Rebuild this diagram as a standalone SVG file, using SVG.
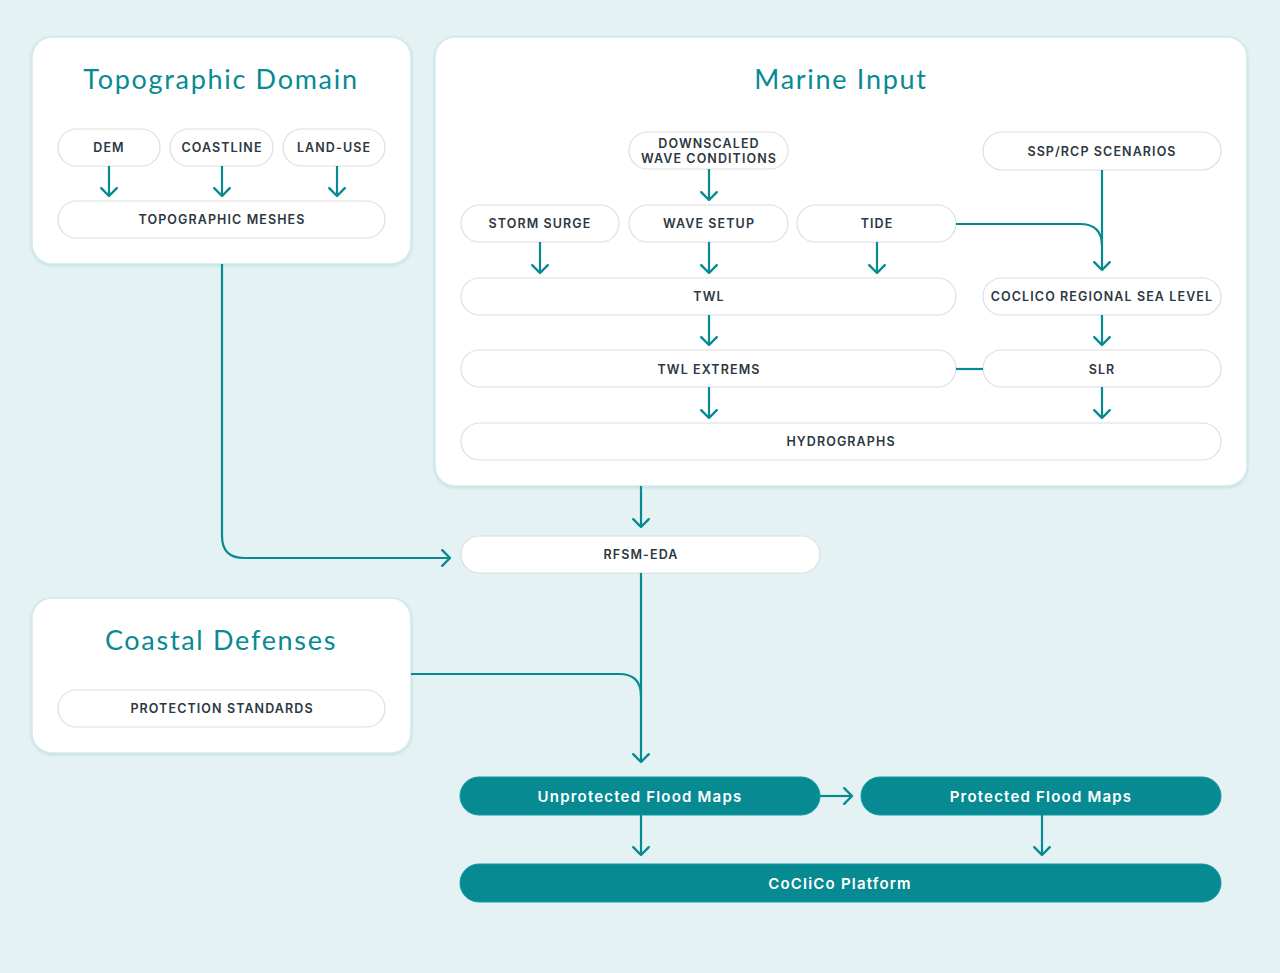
<svg xmlns="http://www.w3.org/2000/svg" width="1280" height="973" viewBox="0 0 1280 973">
<defs>
<marker id="ah" markerUnits="userSpaceOnUse" markerWidth="20" markerHeight="20" viewBox="-1 -1 12 18" refX="8" refY="8" orient="auto">
<path d="M1,1 L8,8 L1,15" fill="none" stroke="#078a92" stroke-width="2.2" stroke-linecap="round" stroke-linejoin="round"/>
</marker>
<filter id="sh" x="-5%" y="-5%" width="110%" height="110%">
<feDropShadow dx="0" dy="1" stdDeviation="1.5" flood-color="#9fcdd1" flood-opacity="0.6"/>
</filter>
</defs>
<style>
.panel{fill:#ffffff;stroke:#d3e9eb;stroke-width:1.5;filter:url(#sh)}
.title{font-family:"Lato","Noto Sans",sans-serif;font-size:27px;fill:#078a92;text-anchor:middle;letter-spacing:1.7px}
.pill{fill:#ffffff;stroke:#dcdfe0;stroke-width:1.2}
.lbl{font-family:"Inter","Noto Sans",sans-serif;font-size:12.5px;font-weight:600;fill:#2c3842;text-anchor:middle;letter-spacing:1.1px}
.fill{fill:#078a92;stroke:#0a9aa2;stroke-width:1}
.wlbl{font-family:"Inter","Noto Sans",sans-serif;font-size:15px;font-weight:600;fill:#ffffff;text-anchor:middle;letter-spacing:1.2px}
.c{fill:none;stroke:#078a92;stroke-width:2.2}
.a{fill:none;stroke:#078a92;stroke-width:2.2;marker-end:url(#ah)}
</style>
<rect width="1280" height="973" fill="#e4f2f3"/>

<g id="topographic-domain">
<rect class="panel" x="32" y="37" width="379" height="227" rx="20"/>
<text class="title" x="221" y="89">Topographic Domain</text>
</g>
<g id="dem"><rect class="pill" x="58" y="129" width="102" height="37" rx="18.5"/><text class="lbl" x="109" y="152">DEM</text></g>
<g id="coastline"><rect class="pill" x="170" y="129" width="103" height="37" rx="18.5"/><text class="lbl" x="222" y="152">COASTLINE</text></g>
<g id="land-use"><rect class="pill" x="283" y="129" width="102" height="37" rx="18.5"/><text class="lbl" x="334" y="152">LAND-USE</text></g>
<g id="topographic-meshes"><rect class="pill" x="58" y="201" width="327" height="37" rx="18.5"/><text class="lbl" x="222" y="224">TOPOGRAPHIC MESHES</text></g>

<g id="marine-input">
<rect class="panel" x="435" y="37" width="812" height="449" rx="20"/>
<text class="title" x="841" y="89">Marine Input</text>
</g>
<g id="downscaled-wave-conditions"><rect class="pill" x="629" y="132" width="159" height="37" rx="18.5"/><text class="lbl" x="709" y="148">DOWNSCALED</text><text class="lbl" x="709" y="163">WAVE CONDITIONS</text></g>
<g id="ssp-rcp-scenarios"><rect class="pill" x="983" y="132" width="238" height="38" rx="19"/><text class="lbl" x="1102" y="156">SSP/RCP SCENARIOS</text></g>
<g id="storm-surge"><rect class="pill" x="461" y="205" width="158" height="37" rx="18.5"/><text class="lbl" x="540" y="228">STORM SURGE</text></g>
<g id="wave-setup"><rect class="pill" x="629" y="205" width="159" height="37" rx="18.5"/><text class="lbl" x="709" y="228">WAVE SETUP</text></g>
<g id="tide"><rect class="pill" x="797" y="205" width="159" height="37" rx="18.5"/><text class="lbl" x="877" y="228">TIDE</text></g>
<g id="twl"><rect class="pill" x="461" y="278" width="495" height="37" rx="18.5"/><text class="lbl" x="709" y="301">TWL</text></g>
<g id="coclico-regional-sea-level"><rect class="pill" x="983" y="278" width="238" height="37" rx="18.5"/><text class="lbl" x="1102" y="301">COCLICO REGIONAL SEA LEVEL</text></g>
<g id="twl-extrems"><rect class="pill" x="461" y="350" width="495" height="37" rx="18.5"/><text class="lbl" x="709" y="374">TWL EXTREMS</text></g>
<g id="slr"><rect class="pill" x="983" y="350" width="238" height="37" rx="18.5"/><text class="lbl" x="1102" y="374">SLR</text></g>
<g id="hydrographs"><rect class="pill" x="461" y="423" width="760" height="37" rx="18.5"/><text class="lbl" x="841" y="446">HYDROGRAPHS</text></g>

<g id="rfsm-eda"><rect class="pill" x="461" y="536" width="359" height="37" rx="18.5"/><text class="lbl" x="641" y="559">RFSM-EDA</text></g>

<g id="coastal-defenses">
<rect class="panel" x="32" y="598" width="379" height="155" rx="20"/>
<text class="title" x="221" y="650">Coastal Defenses</text>
</g>
<g id="protection-standards"><rect class="pill" x="58" y="690" width="327" height="37" rx="18.5"/><text class="lbl" x="222" y="713">PROTECTION STANDARDS</text></g>

<g id="unprotected-flood-maps"><rect class="fill" x="460" y="777" width="360" height="38" rx="19"/><text class="wlbl" x="640" y="802">Unprotected Flood Maps</text></g>
<g id="protected-flood-maps"><rect class="fill" x="861" y="777" width="360" height="38" rx="19"/><text class="wlbl" x="1041" y="802">Protected Flood Maps</text></g>
<g id="coclico-platform"><rect class="fill" x="460" y="864" width="761" height="38" rx="19"/><text class="wlbl" x="840" y="889">CoCliCo Platform</text></g>

<g id="connectors">
<path class="a" d="M109,166 V196"/>
<path class="a" d="M222,166 V196"/>
<path class="a" d="M337,166 V196"/>
<path class="a" d="M709,169 V200"/>
<path class="a" d="M540,242 V273"/>
<path class="a" d="M709,242 V273"/>
<path class="a" d="M877,242 V273"/>
<path class="a" d="M1102,170 V270"/>
<path class="c" d="M956,224 H1080 Q1102,224 1102,246"/>
<path class="a" d="M709,315 V345"/>
<path class="a" d="M1102,315 V345"/>
<path class="c" d="M956,369 H983"/>
<path class="a" d="M709,387 V418"/>
<path class="a" d="M1102,387 V418"/>
<path class="a" d="M641,486 V527"/>
<path class="a" d="M222,264 V536 Q222,558 244,558 H450"/>
<path class="a" d="M641,573 V762"/>
<path class="c" d="M411,674 H619 Q641,674 641,696"/>
<path class="a" d="M820,796 H852"/>
<path class="a" d="M641,815 V855"/>
<path class="a" d="M1042,815 V855"/>
</g>
</svg>
